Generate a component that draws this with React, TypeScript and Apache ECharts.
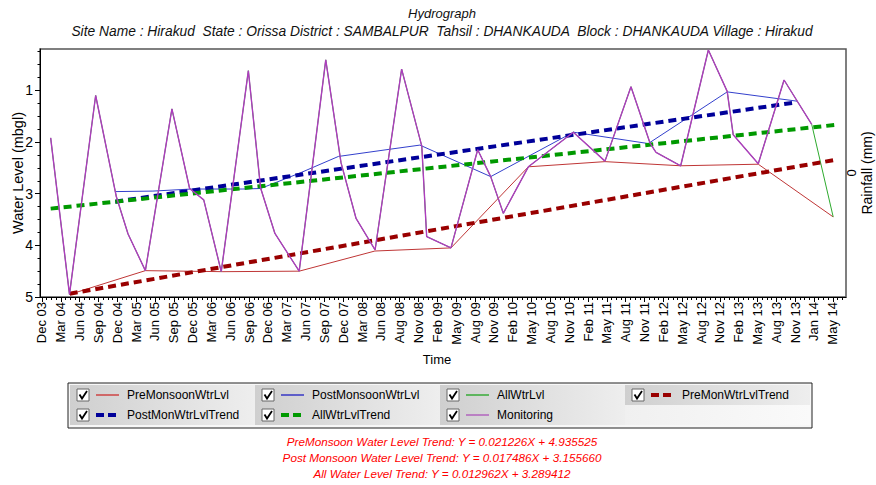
import React, { useEffect, useRef } from "react";
import * as echarts from "echarts";

// ---------- data (x in axis-label index units, y in metres below ground) ----------
const dateLabels = [
  "Dec 03", "Mar 04", "Jun 04", "Sep 04", "Dec 04", "Mar 05", "Jun 05", "Sep 05", "Dec 05",
  "Mar 06", "Jun 06", "Sep 06", "Dec 06", "Mar 07", "Jun 07", "Sep 07", "Dec 07", "Mar 08",
  "Jun 08", "Aug 08", "Nov 08", "Feb 09", "May 09", "Aug 09", "Nov 09", "Feb 10", "May 10",
  "Aug 10", "Nov 10", "Feb 11", "May 11", "Aug 11", "Nov 11", "Feb 12", "May 12", "Aug 12",
  "Nov 12", "Feb 13", "May 13", "Aug 13", "Nov 13", "Jan 14", "May 14",
];
const yTickValues = [1, 2, 3, 4, 5];

// all water levels (the monitoring series is the same set without the last reading)
const allLevelX = [0.46, 1.46, 2.85, 3.95, 4.57, 5.49, 6.9, 7.84, 8.59, 9.52, 10.96, 11.61, 12.37, 13.66,
  15.07, 15.88, 16.68, 17.69, 19.1, 20.17, 20.43, 21.72, 23.14, 23.83, 24.5, 25.83, 28.22, 29.9, 31.28,
  32.29, 32.61, 33.92, 35.39, 36.39, 36.71, 38.04, 39.41, 40.88, 42.02];
const allLevelY = [1.92, 4.95, 1.1, 3.06, 3.78, 4.49, 1.36, 2.9, 3.12, 4.51, 0.62, 2.89, 3.77, 4.5,
  0.41, 2.4, 3.48, 4.09, 0.59, 2.08, 3.83, 4.05, 2.15, 2.67, 3.38, 2.48, 1.81, 2.37, 0.93,
  2.02, 2.2, 2.46, 0.22, 1.02, 1.86, 2.42, 0.8, 1.66, 3.45];

const preX = [1.47, 5.49, 9.61, 13.66, 17.68, 21.72, 25.83, 29.9, 33.92, 38.04, 42.02];
const preY = [4.95, 4.49, 4.51, 4.5, 4.11, 4.05, 2.48, 2.38, 2.46, 2.43, 3.45];

const postX = [3.89, 5.89, 7.93, 10.67, 11.61, 13.7, 15.74, 18.48, 20.07, 23.83, 28.22, 32.2, 36.39, 40.1];
const postY = [2.96, 2.95, 2.91, 2.91, 2.9, 2.6, 2.28, 2.14, 2.06, 2.67, 1.81, 2.03, 1.03, 1.21];

const preTrendX = [1.47, 42.06];
const preTrendY = [4.935525, 2.35];
const postTrendX = [3.89, 40.1];
const postTrendY = [3.15566, 1.23];
const allTrendX = [0.46, 42.11];
const allTrendY = [3.289412, 1.67];

const trendTexts = [
  "PreMonsoon Water Level Trend: Y = 0.021226X + 4.935525",
  "Post Monsoon Water Level Trend: Y = 0.017486X + 3.155660",
  "All Water Level Trend: Y = 0.012962X + 3.289412",
];

const titleText = "Hydrograph";
const subtitleText =
  "Site Name : Hirakud  State : Orissa District : SAMBALPUR  Tahsil : DHANKAUDA  Block : DHANKAUDA Village : Hirakud";

// ---------- helpers ----------
const FONT = "'Liberation Sans', Arial, sans-serif";
const zip = (xs: number[], ys: number[]) => xs.map((x, i) => [x, ys[i]]);

const X_MIN = -0.106;
const X_MAX = 42.7;

const legendItems = [
  { name: "PreMonsoonWtrLvl", color: "#CC2020", dashed: false },
  { name: "PostMonsoonWtrLvl", color: "#1010C0", dashed: false },
  { name: "AllWtrLvl", color: "#10A010", dashed: false },
  { name: "PreMonWtrLvlTrend", color: "#990000", dashed: true },
  { name: "PostMonWtrLvlTrend", color: "#000099", dashed: true },
  { name: "AllWtrLvlTrend", color: "#009900", dashed: true },
  { name: "Monitoring", color: "#A848B8", dashed: false },
];

function buildLegend(): any[] {
  const bx = 68, by = 383, bw = 744, bh = 45;
  const colW = 185, rowH = 20;
  const els: any[] = [];
  els.push({
    type: "rect",
    shape: { x: bx, y: by, width: bw, height: bh },
    style: { fill: "#f7f7f7", stroke: "#222", lineWidth: 1 },
  });
  for (let r = 0; r < 2; r++) {
    for (let c = 0; c < 4; c++) {
      const idx = r * 4 + c;
      const empty = idx >= legendItems.length;
      els.push({
        type: "rect",
        shape: { x: bx + 2 + c * colW, y: by + 2 + r * rowH, width: c === 3 ? bw - 4 - 3 * colW : colW, height: rowH },
        style: {
          fill: new echarts.graphic.LinearGradient(0, 0, 1, 0, [
            { offset: 0, color: empty ? "#f0f0f0" : "#cfcfcf" },
            { offset: 1, color: empty ? "#fafafa" : "#eeeeee" },
          ]),
        },
        silent: true,
      });
    }
  }
  legendItems.forEach((it, i) => {
    const r = Math.floor(i / 4);
    const c = i % 4;
    const x = bx + 9 + c * colW;
    const cy = by + 12 + r * rowH;
    els.push({
      type: "rect",
      shape: { x, y: cy - 6, width: 12, height: 12 },
      style: { fill: "#fff", stroke: "#666", lineWidth: 1 },
    });
    els.push({
      type: "polyline",
      shape: { points: [[x + 2.5, cy - 0.5], [x + 5, cy + 3.5], [x + 10, cy - 4]] },
      style: { stroke: "#000", lineWidth: 1.8, fill: null },
    });
    els.push({
      type: "line",
      shape: { x1: x + 19, y1: cy, x2: x + 42, y2: cy },
      style: it.dashed
        ? { stroke: it.color, lineWidth: 4, lineDash: [8, 4] }
        : { stroke: it.color, lineWidth: 1.2 },
    });
    els.push({
      type: "text",
      x: x + 50,
      y: cy,
      style: { text: it.name, fill: "#000", fontSize: 12, fontFamily: FONT, align: "left", verticalAlign: "middle" },
    });
  });
  return els;
}

function buildOption(): any {
  const labelIdx = dateLabels.map((_, i) => i);
  const minorX: number[] = [];
  for (let v = 0; v <= 42.6; v += 0.25) minorX.push(Math.round(v * 100) / 100);
  const minorY: number[] = [];
  for (let v = 0.25; v <= 5.001; v += 0.25) minorY.push(Math.round(v * 100) / 100);

  const solid = (name: string, data: number[][], color: string, width = 1, z = 2) => ({
    type: "line",
    name,
    data,
    showSymbol: false,
    symbol: "none",
    lineStyle: { color, width, type: "solid" },
    itemStyle: { color },
    z,
  });
  const dashed = (name: string, data: number[][], color: string) => ({
    type: "line",
    name,
    data,
    showSymbol: false,
    symbol: "none",
    lineStyle: { color, width: 4, type: [8, 5] },
    itemStyle: { color },
    z: 3,
  });

  const all = zip(allLevelX, allLevelY);
  const monitoring = all.slice(0, all.length - 1);

  return {
    animation: false,
    backgroundColor: "#fff",
    grid: {
      left: 40, top: 49, width: 806, height: 248,
      show: true, borderColor: "#555", borderWidth: 1.5, backgroundColor: "#fff",
    },
    xAxis: [
      {
        type: "value", min: X_MIN, max: X_MAX, position: "bottom",
        axisLine: { show: true, onZero: false, lineStyle: { color: "#000", width: 1 } },
        axisTick: { show: true, customValues: labelIdx, length: 5, lineStyle: { color: "#000" } },
        axisLabel: {
          customValues: labelIdx,
          formatter: (v: number) => dateLabels[Math.round(v)] ?? "",
          rotate: 90, fontSize: 13, color: "#000", fontFamily: FONT, margin: 5,
        },
        splitLine: { show: false },
      },
      {
        type: "value", min: X_MIN, max: X_MAX, position: "bottom",
        axisLine: { show: false, onZero: false },
        axisTick: { show: true, customValues: minorX, length: 3, lineStyle: { color: "#000" } },
        axisLabel: { show: false },
        splitLine: { show: false },
      },
    ],
    yAxis: [
      {
        type: "value", inverse: true, min: 0.2, max: 5, position: "left",
        axisLine: { show: true, onZero: false, lineStyle: { color: "#000", width: 1 } },
        axisTick: { show: true, customValues: yTickValues, length: 5, lineStyle: { color: "#000" } },
        axisLabel: { customValues: yTickValues, fontSize: 14, color: "#000", fontFamily: FONT, margin: 7 },
        splitLine: { show: false },
      },
      {
        type: "value", inverse: true, min: 0.2, max: 5, position: "left",
        axisLine: { show: false, onZero: false },
        axisTick: { show: true, customValues: minorY, length: 2.5, lineStyle: { color: "#000" } },
        axisLabel: { show: false },
        splitLine: { show: false },
      },
    ],
    series: [
      solid("PreMonsoonWtrLvl", zip(preX, preY), "#BF3636"),
      solid("PostMonsoonWtrLvl", zip(postX, postY), "#3340CC"),
      solid("AllWtrLvl", all, "#2EAA2E"),
      dashed("PreMonWtrLvlTrend", zip(preTrendX, preTrendY), "#990000"),
      dashed("PostMonWtrLvlTrend", zip(postTrendX, postTrendY), "#000099"),
      dashed("AllWtrLvlTrend", zip(allTrendX, allTrendY), "#009900"),
      solid("Monitoring", monitoring, "#AE3CBE", 1.4, 4),
    ],
    graphic: [
      {
        type: "text", x: 442, y: 13,
        style: { text: titleText, fill: "#111", fontSize: 13, fontStyle: "italic", fontFamily: FONT, align: "center", verticalAlign: "middle" },
      },
      {
        type: "text", x: 442, y: 31,
        style: { text: subtitleText, fill: "#111", fontSize: 13.8, fontStyle: "italic", fontFamily: FONT, align: "center", verticalAlign: "middle" },
      },
      {
        type: "text", x: 18, y: 173, rotation: Math.PI / 2,
        style: { text: "Water Level (mbgl)", fill: "#000", fontSize: 14.5, fontFamily: FONT, align: "center", verticalAlign: "middle" },
      },
      {
        type: "text", x: 437, y: 359,
        style: { text: "Time", fill: "#000", fontSize: 13, fontFamily: FONT, align: "center", verticalAlign: "middle" },
      },
      {
        type: "text", x: 851, y: 173, rotation: Math.PI / 2,
        style: { text: "0", fill: "#000", fontSize: 13, fontFamily: FONT, align: "center", verticalAlign: "middle" },
      },
      {
        type: "text", x: 867, y: 173, rotation: Math.PI / 2,
        style: { text: "Rainfall (mm)", fill: "#000", fontSize: 14, fontFamily: FONT, align: "center", verticalAlign: "middle" },
      },
      ...trendTexts.map((t, i) => ({
        type: "text", x: 442, y: 441 + i * 16,
        style: { text: t, fill: "#FF0000", fontSize: 11.7, fontStyle: "italic", fontFamily: FONT, align: "center", verticalAlign: "middle" },
      })),
      ...buildLegend(),
    ],
  };
}

export default function App() {
  const ref = useRef<HTMLDivElement>(null);
  useEffect(() => {
    if (!ref.current) return;
    const chart = echarts.init(ref.current, null, { renderer: "svg" });
    chart.setOption(buildOption());
    return () => chart.dispose();
  }, []);
  return (
    <div
      ref={ref}
      style={{ position: "fixed", left: 0, top: 0, width: 876, height: 485, background: "#fff" }}
    />
  );
}
